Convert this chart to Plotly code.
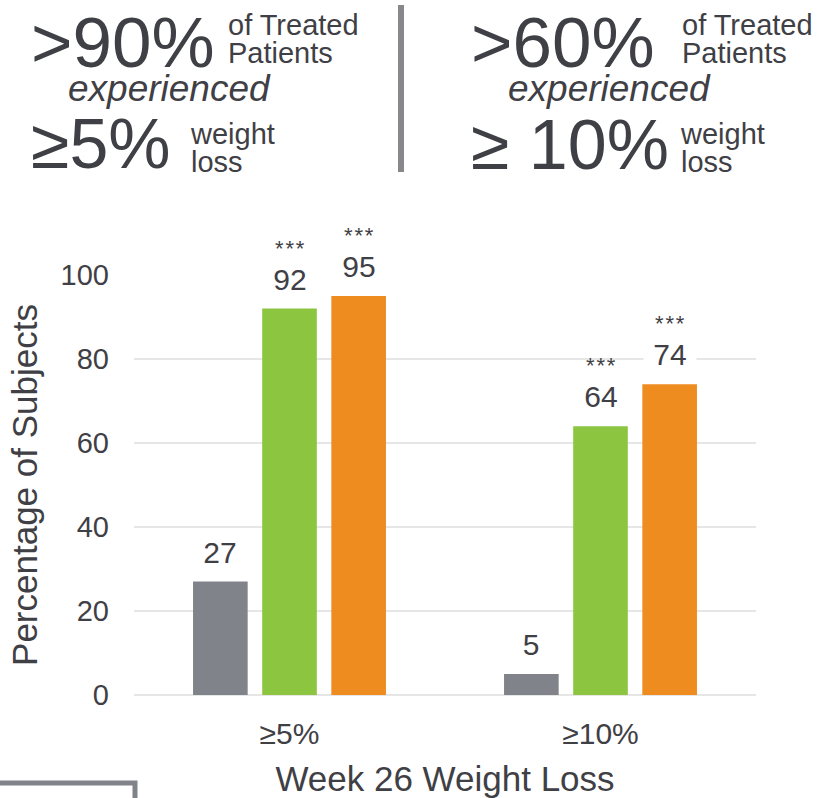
import plotly.graph_objects as go

# ---------------- data ----------------
categories = ["≥5%", "≥10%"]
series_names = ["Placebo", "Dose A", "Dose B"]
placebo = [27, 5]
dose_a = [92, 64]
dose_b = [95, 74]
sig_placebo = ["", ""]
sig_a = ["***", "***"]
sig_b = ["***", "***"]
y_ticks = [0, 20, 40, 60, 80, 100]

# ---------------- style ----------------
FONT = "Liberation Sans, Arial, sans-serif"
TXT = "#3f4045"
COLORS = ["#808389", "#8cc540", "#ef8c20"]
GRID = "#e6e6e6"
W, H = 819, 798
ML, MR, MT, MB = 134, 63, 275, 103
BARGAP, GROUPGAP = 0.333, 0.21

fig = go.Figure()
all_series = [placebo, dose_a, dose_b]
all_sig = [sig_placebo, sig_a, sig_b]
for name, vals, col in zip(series_names, all_series, COLORS):
    fig.add_trace(go.Bar(x=categories, y=vals, name=name, marker_color=col,
                         marker_line_width=0, showlegend=False, hoverinfo="x+y+name"))

annotations = []
slot = (1 - BARGAP) / len(all_series)
for si, (vals, sigs) in enumerate(zip(all_series, all_sig)):
    off = (si - (len(all_series) - 1) / 2) * slot
    for ci, (v, s) in enumerate(zip(vals, sigs)):
        annotations.append(dict(x=ci + off, y=v, xref="x", yref="y", text=str(v),
                                showarrow=False, yanchor="bottom", yshift=11,
                                font=dict(family=FONT, size=30, color=TXT),
                                bgcolor="white", width=50))
        if s:
            annotations.append(dict(x=ci + off, y=v, xref="x", yref="y",
                                    text="\u200a".join(s),
                                    showarrow=False, yanchor="bottom", yshift=46,
                                    font=dict(family=FONT, size=22, color=TXT)))

PW, PH = W - ML - MR, H - MT - MB
def px(x):
    return (x - ML) / PW
def py(y):
    return (H - MB - y) / PH

def hdr(text, x, yc, size, italic=False):
    annotations.append(dict(x=px(x), y=py(yc), xref="paper", yref="paper", text=text,
                            showarrow=False, xanchor="left", yanchor="middle",
                            align="left",
                            font=dict(family=FONT, size=size, color=TXT,
                                      style="italic" if italic else "normal")))

def two_line(l1, l2, x, yc):
    hdr(f"<span style='font-size:29px'>{l1}</span><br>"
        f"<span style='font-size:29px'>{l2}</span>", x, yc, 21.5)

# left header
hdr(">90%", 29, 42, 71)
two_line("of Treated", "Patients", 226, 39)
hdr("experienced", 66, 88, 37, True)
hdr("≥5%", 29, 144, 70)
two_line("weight", "loss", 188, 147.5)
# right header
hdr(">60%", 469, 42, 71)
two_line("of Treated", "Patients", 680, 39)
hdr("experienced", 506, 88, 37, True)
hdr("≥ 10%", 469, 145, 70)
two_line("weight", "loss", 678, 147.5)

shapes = [
    dict(type="line", xref="paper", yref="paper", x0=px(401), x1=px(401),
         y0=py(5), y1=py(172), line=dict(color="#86888c", width=6)),
    dict(type="rect", xref="paper", yref="paper", x0=px(-10), x1=px(135),
         y0=py(783), y1=py(830), line=dict(color="#808389", width=5)),
]

fig.update_layout(
    width=W, height=H, margin=dict(l=ML, r=MR, t=MT, b=MB, autoexpand=False),
    paper_bgcolor="white", plot_bgcolor="white",
    barmode="group", bargap=BARGAP, bargroupgap=GROUPGAP,
    font=dict(family=FONT, color=TXT),
    annotations=annotations, shapes=shapes,
    xaxis=dict(type="category", range=[-0.5, 1.5], showgrid=False, zeroline=False,
               showline=False, ticks="", tickfont=dict(size=30, color=TXT),
               ticklabelstandoff=18,
               title=dict(text="Week 26 Weight Loss", font=dict(size=35, color=TXT),
                          standoff=19)),
    yaxis=dict(range=[0, 100], tickvals=y_ticks, showgrid=True, gridcolor=GRID,
               gridwidth=2, zeroline=True, zerolinecolor=GRID, zerolinewidth=2,
               showline=False, ticks="", tickfont=dict(size=29, color=TXT),
               ticklabelstandoff=24,
               title=dict(text="Percentage of Subjects", font=dict(size=35, color=TXT),
                          standoff=12)),
)

fig.write_html("out.html")
